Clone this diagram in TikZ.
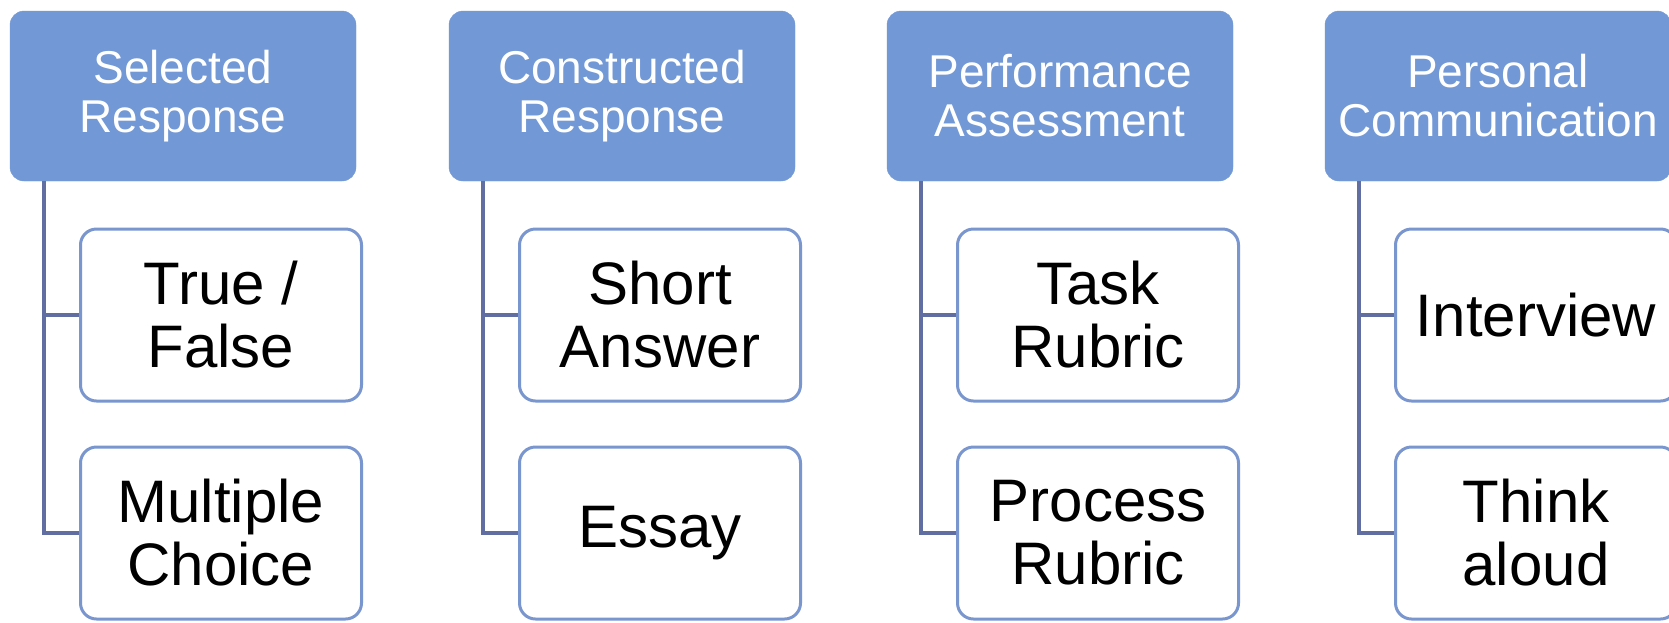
\documentclass[tikz,border=0pt]{standalone}
\usepackage{fontspec}
\setmainfont{Liberation Sans}
\definecolor{topblue}{RGB}{114,152,214}
\definecolor{childline}{RGB}{122,150,206}
\definecolor{conn}{RGB}{96,110,162}
\tikzset{
  headbox/.style={rectangle, rounded corners=14pt, fill=topblue, draw=topblue,
    text=white, minimum width=346pt, minimum height=170pt, align=center,
    font=\fontsize{46}{49}\selectfont, inner sep=0pt},
  itembox/.style={rectangle, rounded corners=16pt, fill=white, draw=childline,
    line width=3pt, minimum width=281pt, minimum height=172pt, align=center,
    font=\fontsize{60}{63}\selectfont, text=black, inner sep=0pt},
  link/.style={draw=conn, line width=3.5pt}
}
\begin{document}
\begin{tikzpicture}[x=1pt,y=-1pt]
\fill[white] (0,0) rectangle (1669,622);
\useasboundingbox (0,0) rectangle (1669,622);
\foreach \i/\xl/\head/\ca/\cb in {
  1/10/{Selected\\Response}/{True /\\False}/{Multiple\\Choice},
  2/449/{Constructed\\Response}/{Short\\Answer}/{Essay},
  3/887/{Performance\\Assessment}/{Task\\Rubric}/{Process\\Rubric},
  4/1325/{Personal\\Communication}/{Interview}/{Think\\aloud}}
{
  \node[headbox] (h\i) at (\xl+173,96) {\head};
  \node[itembox] (a\i) at (\xl+211,315) {\ca};
  \node[itembox] (b\i) at (\xl+211,533) {\cb};
  \draw[link] ([xshift=34pt]h\i.south west) |- (a\i.west);
  \draw[link] ([xshift=34pt]h\i.south west) |- (b\i.west);
}
\end{tikzpicture}
\end{document}
